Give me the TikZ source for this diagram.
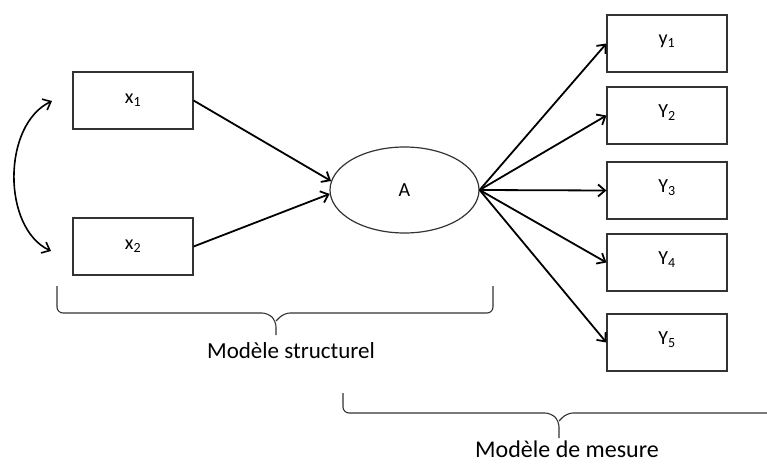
\documentclass[tikz,border=0pt]{standalone}
\usepackage{fontspec}
\setmainfont{Carlito}
\usetikzlibrary{arrows.meta,shapes.geometric}
\begin{document}
\begin{tikzpicture}[x=1pt,y=-1pt,
  box/.style={draw=black!80,line width=1.2pt,minimum width=120pt,minimum height=57pt,inner sep=0pt},
  txt/.style={font=\fontsize{20}{22}\selectfont,inner sep=0pt},
  lat/.style={draw=black!80,line width=1.2pt,ellipse,minimum width=149pt,minimum height=86pt,inner sep=0pt,font=\fontsize{20}{22}\selectfont},
  arr/.style={line width=1.8pt,-{Straight Barb[length=7pt,width=12pt,line width=1.8pt]}},
  brace/.style={line width=1.1pt,draw=black!80,rounded corners=6pt},
  lbl/.style={inner sep=0pt,text depth=0pt}]
\useasboundingbox (0,0) rectangle (767,465);
\node[box] (x1) at (133,100.5) {};
\node[txt] at (x1) {x\textsubscript{1}};
\node[box] (x2) at (133,246.5) {};
\node[txt] at (x2) {x\textsubscript{2}};
\node[lat] (A) at (404.5,190) {A};
\node[box] (y1) at (667,43.5) {};
\node[txt] at ([yshift=2pt]y1.center) {y\textsubscript{1}};
\node[box] (y2) at (667,115.5) {};
\node[txt] at ([yshift=2.5pt]y2.center) {Y\textsubscript{2}};
\node[box] (y3) at (667,190.5) {};
\node[txt] at ([yshift=2.5pt]y3.center) {Y\textsubscript{3}};
\node[box] (y4) at (667,262.5) {};
\node[txt] at ([yshift=2.5pt]y4.center) {Y\textsubscript{4}};
\node[box] (y5) at (667,342.5) {};
\node[txt] at ([yshift=2.5pt]y5.center) {Y\textsubscript{5}};
\draw[arr] (x1.east) -- (A.173);
\draw[arr] (x2.east) -- (A.183);
\draw[arr] (A.east) -- (y1.west);
\draw[arr] (A.east) -- (y2.west);
\draw[arr] (A.east) -- (y3.west);
\draw[arr] (A.east) -- (y4.west);
\draw[arr] (A.east) -- (y5.west);
\coordinate (c1) at (52,101);
\coordinate (c2) at (51,251);
\draw[line width=1.6pt,{Straight Barb[length=7pt,width=12pt,line width=1.6pt]}-{Straight Barb[length=7pt,width=12pt,line width=1.6pt]}] (c1) .. controls (2,125) and (2,228) .. (c2);
% braces
\coordinate (b1l) at (57,286);
\coordinate (b1r) at (493,286);
\coordinate (b1t) at (276,335);
\draw[brace] (b1l) -- (57,313) -- (268,313) -- (276,321) [sharp corners] -- (b1t);
\draw[brace] (b1r) -- (493,313) -- (284,313) -- (276,321);
\node[lbl,anchor=base,font=\fontsize{23}{26}\selectfont] (l1) at (291,358) {Modèle structurel};
\coordinate (b2l) at (343,393);
\coordinate (b2r) at (767,413);
\coordinate (b2t) at (559,438);
\draw[brace] (b2l) -- (343,413) -- (551,413) -- (559,421) [sharp corners] -- (b2t);
\draw[brace] (b2r) -- (567,413) -- (559,421);
\node[lbl,anchor=base,font=\fontsize{24}{27}\selectfont] (l2) at (567,457) {Modèle de mesure};
\end{tikzpicture}
\end{document}
